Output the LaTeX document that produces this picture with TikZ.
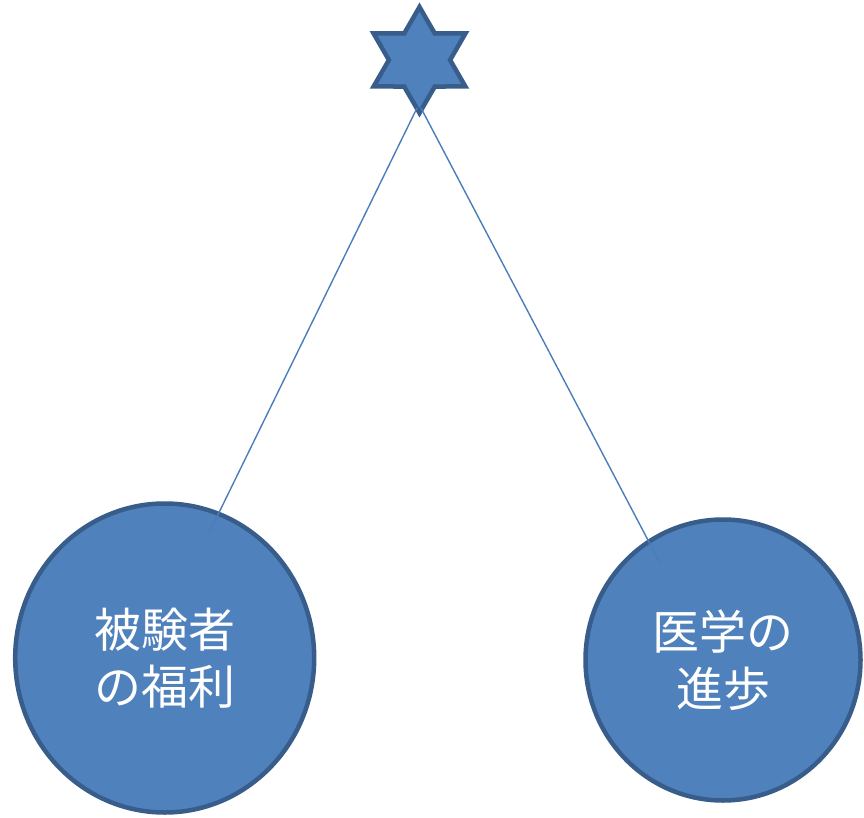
\documentclass[tikz,border=0pt]{standalone}
\usepackage{fontspec}
\newfontfamily\jp{Noto Sans CJK JP}
\usetikzlibrary{shapes.geometric}
\definecolor{fillblue}{HTML}{4F81BD}
\definecolor{edgeblue}{HTML}{385D8A}
\definecolor{lineblue}{HTML}{4A7EBB}
\begin{document}
\begin{tikzpicture}[x=1pt,y=-1pt,
  ball/.style={ellipse,fill=fillblue,draw=edgeblue,line width=4.5pt,inner sep=0pt,
    text=white,font=\jp\fontsize{47}{57}\selectfont,align=center},
  tie/.style={draw=lineblue,line width=1.4pt}]
\useasboundingbox (0,0) rectangle (864,818);
\node[star,star points=6,star point ratio=1.732,minimum size=106pt,inner sep=0pt,
  fill=fillblue,draw=edgeblue,line width=4.5pt] (star) at (419.5,60) {};
\node[ball,minimum width=299pt,minimum height=309pt] (L) at (164.7,658) {被験者\\の福利};
\node[ball,minimum width=275pt,minimum height=281pt] (R) at (723,660) {医学の\\進歩};
\coordinate (ls) at (417,108);
\coordinate (rs) at (421,108);
\coordinate (le) at (209,533);
\coordinate (re) at (660,563);
\draw[tie] (ls) -- (le);
\draw[tie] (rs) -- (re);
\end{tikzpicture}
\end{document}
